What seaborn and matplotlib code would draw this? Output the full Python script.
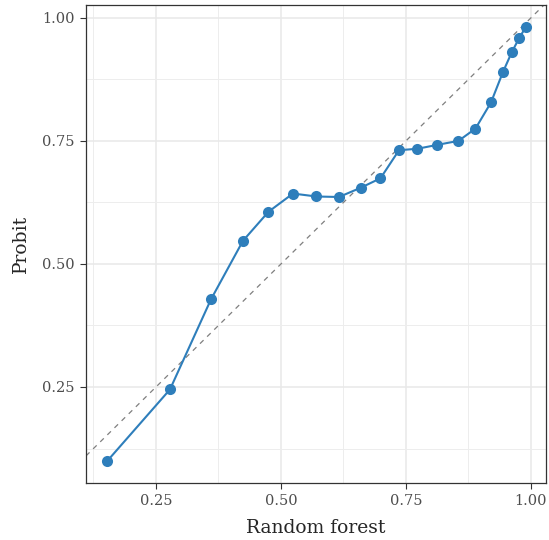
import numpy as np
import pandas as pd
import matplotlib
matplotlib.use('Agg')
import matplotlib.pyplot as plt
from matplotlib.ticker import MultipleLocator
import seaborn as sns

# calibration points
random_forest = [0.152, 0.278, 0.360, 0.424, 0.475, 0.524, 0.571, 0.616, 0.660, 0.699,
                 0.736, 0.773, 0.813, 0.855, 0.889, 0.920, 0.944, 0.962, 0.976, 0.990]
probit = [0.099, 0.245, 0.428, 0.547, 0.606, 0.643, 0.637, 0.636, 0.655, 0.674,
          0.731, 0.734, 0.742, 0.750, 0.775, 0.828, 0.890, 0.931, 0.958, 0.982]
xticks = [0.25, 0.50, 0.75, 1.00]
yticks = [0.25, 0.50, 0.75, 1.00]

df = pd.DataFrame({"Random forest": random_forest, "Probit": probit})

sns.set_theme(style="white")
plt.rcParams['font.family'] = ['DejaVu Serif']

fig = plt.figure(figsize=(5.49, 5.40), dpi=100)
ax = fig.add_axes([0.1566, 0.1056, 0.8379, 0.8851])

ax.set_xlim(0.110, 1.030)
ax.set_ylim(0.055, 1.026)

# grid: major + minor like ggplot theme_bw
ax.xaxis.set_minor_locator(MultipleLocator(0.125))
ax.yaxis.set_minor_locator(MultipleLocator(0.125))
ax.grid(True, which='major', color='#E8E8E8', linewidth=1.1)
ax.grid(True, which='minor', color='#EDEDED', linewidth=0.7)
ax.set_axisbelow(True)

# 45 degree reference line
ax.axline((0, 0), slope=1, color='#7F7F7F', linestyle=(0, (4, 4)), linewidth=0.9, zorder=1)

sns.lineplot(data=df, x="Random forest", y="Probit", color='#2E7EBB', linewidth=1.5,
             marker='o', markersize=8, markeredgewidth=0, sort=False, ax=ax, zorder=3)

ax.set_xticks(xticks)
ax.set_yticks(yticks)
ax.set_xticklabels([f"{v:.2f}" for v in xticks])
ax.set_yticklabels([f"{v:.2f}" for v in yticks])
ax.tick_params(axis='both', which='major', bottom=True, left=True, length=4, width=0.8,
               color='#333333', labelsize=10.5, labelcolor='#4D4D4D', direction='out', pad=4)
ax.tick_params(axis='both', which='minor', length=0)
for s in ax.spines.values():
    s.set_color('#333333')
    s.set_linewidth(0.9)

ax.set_xlabel("Random forest", fontsize=13.5, labelpad=8)
ax.set_ylabel("Probit", fontsize=13.5, labelpad=9)

fig.savefig("out.png", dpi=100)
